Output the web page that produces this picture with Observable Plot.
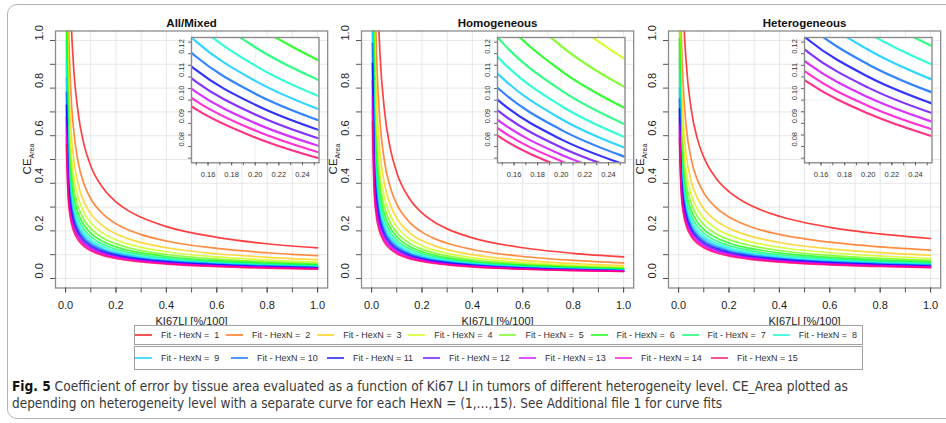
<!DOCTYPE html>
<html><head><meta charset="utf-8">
<script src="https://cdn.jsdelivr.net/npm/d3@7"></script>
<script src="https://cdn.jsdelivr.net/npm/@observablehq/plot@0.6"></script>
<style>
html,body{margin:0;padding:0;background:#fff;overflow:hidden;}
#root{position:relative;width:946px;height:423px;overflow:hidden;font-family:"Liberation Sans",Arial,sans-serif;background:#fff;}
</style></head><body><div id="root"></div>
<script>
// ---------------- data ----------------
const kiX = [0.0035,0.01,0.02,0.03,0.05,0.075,0.1,0.15,0.2,0.25,0.3,0.4,0.6,0.8,1.0];
const hexN = [1,2,3,4,5,6,7,8,9,10,11,12,13,14,15];
const hexColors = ["#FF0000","#FF6600","#FFCC00","#CCFF00","#66FF00","#00FF00","#00FF66","#00FFCC","#00CCFF","#0066FF","#0000FF","#6600FF","#CC00FF","#FF00CC","#FF0066"];
const panelTitles = ["All/Mixed","Homogeneous","Heterogeneous"];
const xTitle = "KI67LI [%/100]";

const allMixed = [
 [3.0,1.69,1.15,0.92,0.695,0.555,0.473,0.378,0.322,0.284,0.257,0.218,0.173,0.146,0.129],
 [2.085,1.175,0.805,0.646,0.489,0.392,0.335,0.269,0.230,0.2035,0.1843,0.1576,0.1264,0.1081,0.0958],
 [1.667,0.945,0.650,0.522,0.396,0.318,0.2725,0.219,0.1876,0.1664,0.1508,0.1292,0.1039,0.0890,0.0789],
 [1.415,0.806,0.556,0.447,0.3405,0.274,0.2352,0.1894,0.1625,0.1443,0.1309,0.1124,0.0906,0.0777,0.0690],
 [1.238,0.709,0.491,0.396,0.302,0.2438,0.2094,0.1691,0.1453,0.1292,0.1173,0.1009,0.0815,0.0700,0.0623],
 [1.107,0.637,0.4426,0.3578,0.2738,0.2214,0.1905,0.1542,0.1327,0.1181,0.1074,0.0925,0.0749,0.0645,0.0574],
 [1.002,0.580,0.4043,0.3276,0.2514,0.2038,0.1756,0.1424,0.1228,0.1095,0.0996,0.0859,0.0697,0.0602,0.0537],
 [0.916,0.533,0.3734,0.3032,0.2334,0.1896,0.1637,0.1331,0.1149,0.1025,0.0934,0.0807,0.0657,0.0567,0.0507],
 [0.844,0.494,0.3473,0.2827,0.2182,0.1777,0.1537,0.1252,0.1083,0.0968,0.0883,0.0764,0.0623,0.0539,0.0482],
 [0.782,0.461,0.3253,0.2654,0.2055,0.1678,0.1453,0.1187,0.1028,0.0920,0.0840,0.0728,0.0595,0.0516,0.0462],
 [0.728,0.4316,0.306,0.2502,0.1943,0.159,0.138,0.1129,0.098,0.0878,0.0803,0.0697,0.0571,0.0495,0.0444],
 [0.679,0.4057,0.2888,0.2368,0.1845,0.1513,0.1315,0.1079,0.0938,0.0841,0.0770,0.0669,0.0550,0.0478,0.0429],
 [0.636,0.3826,0.2735,0.2249,0.1758,0.1445,0.1258,0.1035,0.0901,0.0809,0.0741,0.0645,0.0531,0.0463,0.0416],
 [0.598,0.3621,0.2602,0.2145,0.1681,0.1386,0.1209,0.0996,0.0869,0.0781,0.0717,0.0625,0.0515,0.0450,0.0404],
 [0.562,0.343,0.2476,0.2046,0.161,0.133,0.1162,0.0960,0.0839,0.0755,0.0693,0.0606,0.0501,0.0437,0.0394]
];
const homogeneous = [
 [4.50,2.178,1.350,1.021,0.7175,0.5425,0.4447,0.3362,0.2757,0.2364,0.2084,0.1709,0.1292,0.1059,0.0908],
 [3.05,1.494,0.936,0.7096,0.5009,0.380,0.3123,0.2370,0.1949,0.1675,0.1479,0.1217,0.0924,0.0760,0.0654],
 [2.394,1.185,0.749,0.570,0.4039,0.3075,0.2534,0.1931,0.1592,0.1371,0.1213,0.1001,0.0764,0.0630,0.0543],
 [1.991,0.996,0.6356,0.4851,0.3453,0.2639,0.2180,0.1668,0.1379,0.1190,0.1055,0.0873,0.0669,0.0554,0.0479],
 [1.710,0.864,0.5563,0.4261,0.3047,0.2337,0.1936,0.1487,0.1233,0.1067,0.0948,0.0787,0.0605,0.0503,0.0435],
 [1.500,0.766,0.4972,0.3822,0.2746,0.2114,0.1756,0.1354,0.1126,0.0976,0.0869,0.0723,0.0559,0.0466,0.0404],
 [1.333,0.688,0.450,0.3473,0.2507,0.1937,0.1614,0.1249,0.1042,0.0905,0.0807,0.0674,0.0523,0.0437,0.0380],
 [1.198,0.625,0.4117,0.3189,0.2314,0.1795,0.1500,0.1166,0.0975,0.0849,0.0759,0.0635,0.0495,0.0415,0.0362],
 [1.084,0.5714,0.3793,0.2949,0.2151,0.1676,0.1404,0.1096,0.0919,0.0802,0.0718,0.0603,0.0472,0.0396,0.0346],
 [0.988,0.526,0.3514,0.2745,0.2012,0.1574,0.1323,0.1036,0.0872,0.0763,0.0684,0.0576,0.0452,0.0381,0.0334],
 [0.904,0.4866,0.3269,0.2564,0.189,0.1485,0.1252,0.0985,0.0831,0.0729,0.0654,0.0553,0.0436,0.0368,0.0323],
 [0.832,0.4524,0.3054,0.2407,0.1785,0.1408,0.1191,0.0941,0.0796,0.0699,0.0629,0.0533,0.0422,0.0357,0.0314],
 [0.767,0.4219,0.2862,0.2266,0.169,0.134,0.1136,0.0901,0.0765,0.0674,0.0607,0.0516,0.0410,0.0348,0.0307],
 [0.710,0.3945,0.2686,0.2138,0.1604,0.1277,0.1087,0.0866,0.0737,0.0650,0.0587,0.0500,0.0399,0.0339,0.0300],
 [0.659,0.3698,0.2526,0.2021,0.1526,0.1221,0.1042,0.0834,0.0712,0.0630,0.0570,0.0486,0.0389,0.0332,0.0294]
];
const heterogeneous = [
 [2.566,1.547,1.107,0.9108,0.712,0.5856,0.5098,0.4193,0.365,0.3278,0.3002,0.2613,0.2149,0.1871,0.1680],
 [1.80,1.087,0.7795,0.6416,0.5021,0.4132,0.360,0.2963,0.2581,0.2319,0.2124,0.1851,0.1524,0.1327,0.1192],
 [1.458,0.882,0.6334,0.5218,0.4087,0.3367,0.2934,0.2418,0.2107,0.1894,0.1736,0.1513,0.1247,0.1086,0.0977],
 [1.252,0.7596,0.546,0.4502,0.353,0.291,0.2538,0.2093,0.1825,0.1641,0.1505,0.1312,0.1082,0.0944,0.0849],
 [1.111,0.675,0.486,0.401,0.3148,0.2597,0.2267,0.187,0.1632,0.1468,0.1347,0.1175,0.0970,0.0846,0.0762],
 [1.006,0.6125,0.4416,0.3647,0.2866,0.2367,0.2066,0.1707,0.149,0.1341,0.1231,0.1075,0.0888,0.0775,0.0698],
 [0.924,0.5639,0.4071,0.3365,0.2647,0.2187,0.1911,0.158,0.138,0.1243,0.1141,0.0997,0.0824,0.0720,0.0648],
 [0.8566,0.5239,0.3787,0.3133,0.2467,0.2041,0.1784,0.1476,0.129,0.1162,0.1067,0.0933,0.0772,0.0675,0.0608],
 [0.8013,0.4912,0.3556,0.2944,0.2321,0.1921,0.168,0.1391,0.1217,0.1097,0.1008,0.0881,0.073,0.0639,0.0576],
 [0.7534,0.4629,0.3356,0.2781,0.2194,0.1818,0.1591,0.1319,0.1154,0.1041,0.0956,0.0837,0.0694,0.0607,0.0548],
 [0.7127,0.4389,0.3186,0.2642,0.2087,0.1731,0.1516,0.1257,0.1101,0.0993,0.0913,0.08,0.0663,0.0581,0.0524],
 [0.6765,0.4174,0.3036,0.2519,0.1992,0.1654,0.1449,0.1203,0.1054,0.0951,0.0875,0.0767,0.0636,0.0558,0.0503],
 [0.6438,0.3982,0.29,0.2409,0.1908,0.1585,0.1389,0.1154,0.1012,0.0914,0.0841,0.0737,0.0612,0.0537,0.0485],
 [0.615,0.3812,0.2781,0.2312,0.1833,0.1524,0.1337,0.1111,0.0975,0.0881,0.0811,0.0711,0.0591,0.0519,0.0469],
 [0.5888,0.366,0.2673,0.2225,0.1765,0.1469,0.1290,0.1073,0.0942,0.0851,0.0784,0.0688,0.0573,0.0503,0.0454]
];

const mainTicks = [0,0.1,0.2,0.3,0.4,0.5,0.6,0.7,0.8,0.9,1.0];
const mainLabels = [0,0.2,0.4,0.6,0.8,1.0];
const insetXTicks = [0.15,0.16,0.17,0.18,0.19,0.20,0.21,0.22,0.23,0.24,0.25];
const insetXLabels = [0.16,0.18,0.20,0.22,0.24];
const insetYTicks = [0.075,0.08,0.085,0.09,0.095,0.10,0.105,0.11,0.115,0.12,0.125];
const insetYLabels = [0.08,0.09,0.10,0.11,0.12];

const captionBold = "Fig. 5";
const captionLine1 = " Coefficient of error by tissue area evaluated as a function of Ki67 LI in tumors of different heterogeneity level. CE_Area plotted as";
const captionLine2 = "depending on heterogeneity level with a separate curve for each HexN = (1,\u2026,15). See Additional file 1 for curve fits";

// ---------------- layout ----------------
const root = d3.select("#root");
const FONT = "Liberation Sans, Arial, Helvetica, sans-serif";
const colorScale = {type:"ordinal", domain: hexN, range: hexColors};

function rowsOf(values){
  const r = [];
  values.forEach((ys,i) => ys.forEach((y,j) => r.push({x: kiX[j], y, n: hexN[i]})));
  return r;
}

// outer figure border
root.append("div").style("position","absolute").style("left","7px").style("top","4px")
  .style("width","1000px").style("height","415px").style("border","1.5px solid #b4b4b4")
  .style("border-radius","10px").style("box-sizing","border-box");

const panelX0 = [65, 371, 678.3];
const panelData = [allMixed, homogeneous, heterogeneous];

panelData.forEach((vals, p) => {
  const x0 = panelX0[p];
  const data = rowsOf(vals);
  const svg = Plot.plot({
    width: 340, height: 325,
    marginLeft: 55, marginRight: 12.84, marginTop: 30.5, marginBottom: 37.5,
    x: {domain:[-0.04,1.04], axis:null, label:null},
    y: {domain:[-0.04,1.04], axis:null, label:null},
    color: colorScale,
    style: {background:"transparent", fontFamily: FONT, overflow:"visible"},
    marks: [
      Plot.ruleX(mainTicks, {stroke:"#e2e2e2", strokeWidth:0.8}),
      Plot.ruleY(mainTicks, {stroke:"#e2e2e2", strokeWidth:0.8}),
      Plot.line(data, {x:"x", y:"y", z:"n", stroke:"n", strokeWidth:1.7, strokeOpacity:0.75, curve:"monotone-x", clip:true}),
      Plot.frame({stroke:"#8c8c8c", strokeWidth:1.3}),
      Plot.axisX({ticks: mainTicks, anchor:"bottom", tickSize:5, tickFormat:()=>"", label:null, stroke:"#555"}),
      Plot.axisX({ticks: mainLabels, anchor:"bottom", tickSize:5, tickPadding:8, tickFormat:d=>d.toFixed(1), fontSize:11, label:null, stroke:"#555", fill:"#222"}),
      Plot.axisY({ticks: mainTicks, anchor:"left", tickSize:5, tickFormat:()=>"", label:null, stroke:"#555"}),
      Plot.text(mainLabels, {y:d=>d, frameAnchor:"left", dx:-16, rotate:-90, text:d=>d.toFixed(1), fontSize:11, fill:"#222"}),
      Plot.text([panelTitles[p]], {frameAnchor:"top", lineAnchor:"middle", dy:-7.5, text:d=>d, fontWeight:"bold", fontSize:11.5, fill:"#111"}),
      Plot.text([xTitle], {frameAnchor:"bottom", lineAnchor:"middle", dy:33.5, text:d=>d, fontSize:11, fill:"#222"})
    ]
  });
  // y-axis title with subscript
  const t = d3.select(svg).append("text")
    .attr("transform","translate(31,159) rotate(-90)")
    .attr("text-anchor","middle").attr("font-size",11.5).attr("fill","#222").attr("font-family",FONT);
  t.append("tspan").text("CE");
  t.append("tspan").attr("font-size",7).attr("dy",2.5).text("Area");
  d3.select(svg).style("position","absolute").style("left",(x0-65)+"px").style("top","0px");
  root.node().appendChild(svg);

  // inset
  const iLeft = x0 + 125.5, iTop = 37.1, iW = 127.5, iH = 125.3;
  const ml = 22, mr = 4, mt = 4, mb = 22;
  const isvg = Plot.plot({
    width: iW+ml+mr, height: iH+mt+mb,
    marginLeft: ml, marginRight: mr, marginTop: mt, marginBottom: mb,
    x: {domain:[0.146,0.254], axis:null, label:null},
    y: {domain:[0.073,0.127], axis:null, label:null},
    color: colorScale,
    style: {background:"transparent", fontFamily: FONT, overflow:"visible"},
    marks: [
      Plot.frame({fill:"white"}),
      Plot.ruleX([0.2], {stroke:"#ececec", strokeWidth:0.8}),
      Plot.ruleY([0.1], {stroke:"#ececec", strokeWidth:0.8}),
      Plot.line(data, {x:"x", y:"y", z:"n", stroke:"n", strokeWidth:2.2, strokeOpacity:0.8, curve:"monotone-x", clip:true}),
      Plot.frame({stroke:"#8c8c8c", strokeWidth:1.4}),
      Plot.axisX({ticks: insetXTicks, anchor:"bottom", tickSize:3, tickFormat:()=>"", label:null, stroke:"#666"}),
      Plot.axisX({ticks: insetXLabels, anchor:"bottom", tickSize:3, tickPadding:6, tickFormat:d=>d.toFixed(2), fontSize:7.5, label:null, stroke:"#666", fill:"#333"}),
      Plot.axisY({ticks: insetYTicks, anchor:"left", tickSize:3, tickFormat:()=>"", label:null, stroke:"#666"}),
      Plot.text(insetYLabels, {y:d=>d, frameAnchor:"left", dx:-9.5, rotate:-90, text:d=>d.toFixed(2), fontSize:7.5, fill:"#333"})
    ]
  });
  d3.select(isvg).style("position","absolute").style("left",(iLeft-ml)+"px").style("top",(iTop-mt)+"px");
  root.node().appendChild(isvg);
});

// legend (two boxed rows)
const legendRows = [
  {items: hexN.slice(0,8), top:325, height:19.5, start:135, step:91.1},
  {items: hexN.slice(8), top:346, height:23.5, start:135, step:96}
];
legendRows.forEach(r => {
  const box = root.append("div").style("position","absolute").style("left","134px")
    .style("top", r.top+"px").style("width","729px").style("height", r.height+"px")
    .style("border","1px solid #a0a0a0").style("box-sizing","border-box").style("background","#fff");
  r.items.forEach((n,k) => {
    const it = box.append("div").style("position","absolute")
      .style("left", (r.start - 135 + k*r.step) + "px").style("top","0px").style("height","100%")
      .style("display","flex").style("align-items","center");
    it.append("svg").attr("width",17).attr("height",4).style("display","block")
      .append("line").attr("x1",0).attr("x2",17).attr("y1",2).attr("y2",2)
      .attr("stroke", hexColors[n-1]).attr("stroke-opacity",0.85).attr("stroke-width",1.6);
    it.append("span").style("margin-left","9px").style("font-size","9px").style("color","#333")
      .style("white-space","pre").style("font-family",FONT)
      .text(`Fit - HexN = ${n < 10 ? " " : ""}${n}`);
  });
});

// caption
const cap = root.append("svg").attr("width",946).attr("height",50)
  .style("position","absolute").style("left","0px").style("top","372px");
const l1 = cap.append("text").attr("x",12).attr("y",18.5).attr("font-size",14)
  .attr("font-family","Liberation Sans Narrow, DejaVu Sans Condensed, Arial Narrow, sans-serif")
  .attr("textLength",836).attr("lengthAdjust","spacingAndGlyphs").attr("fill","#3a3a3a");
l1.append("tspan").attr("font-weight","bold").attr("fill","#111").text(captionBold);
l1.append("tspan").text(captionLine1);
cap.append("text").attr("x",12).attr("y",36).attr("font-size",14)
  .attr("font-family","Liberation Sans Narrow, DejaVu Sans Condensed, Arial Narrow, sans-serif")
  .attr("textLength",710).attr("lengthAdjust","spacingAndGlyphs").attr("fill","#3a3a3a")
  .text(captionLine2);
</script></body></html>
